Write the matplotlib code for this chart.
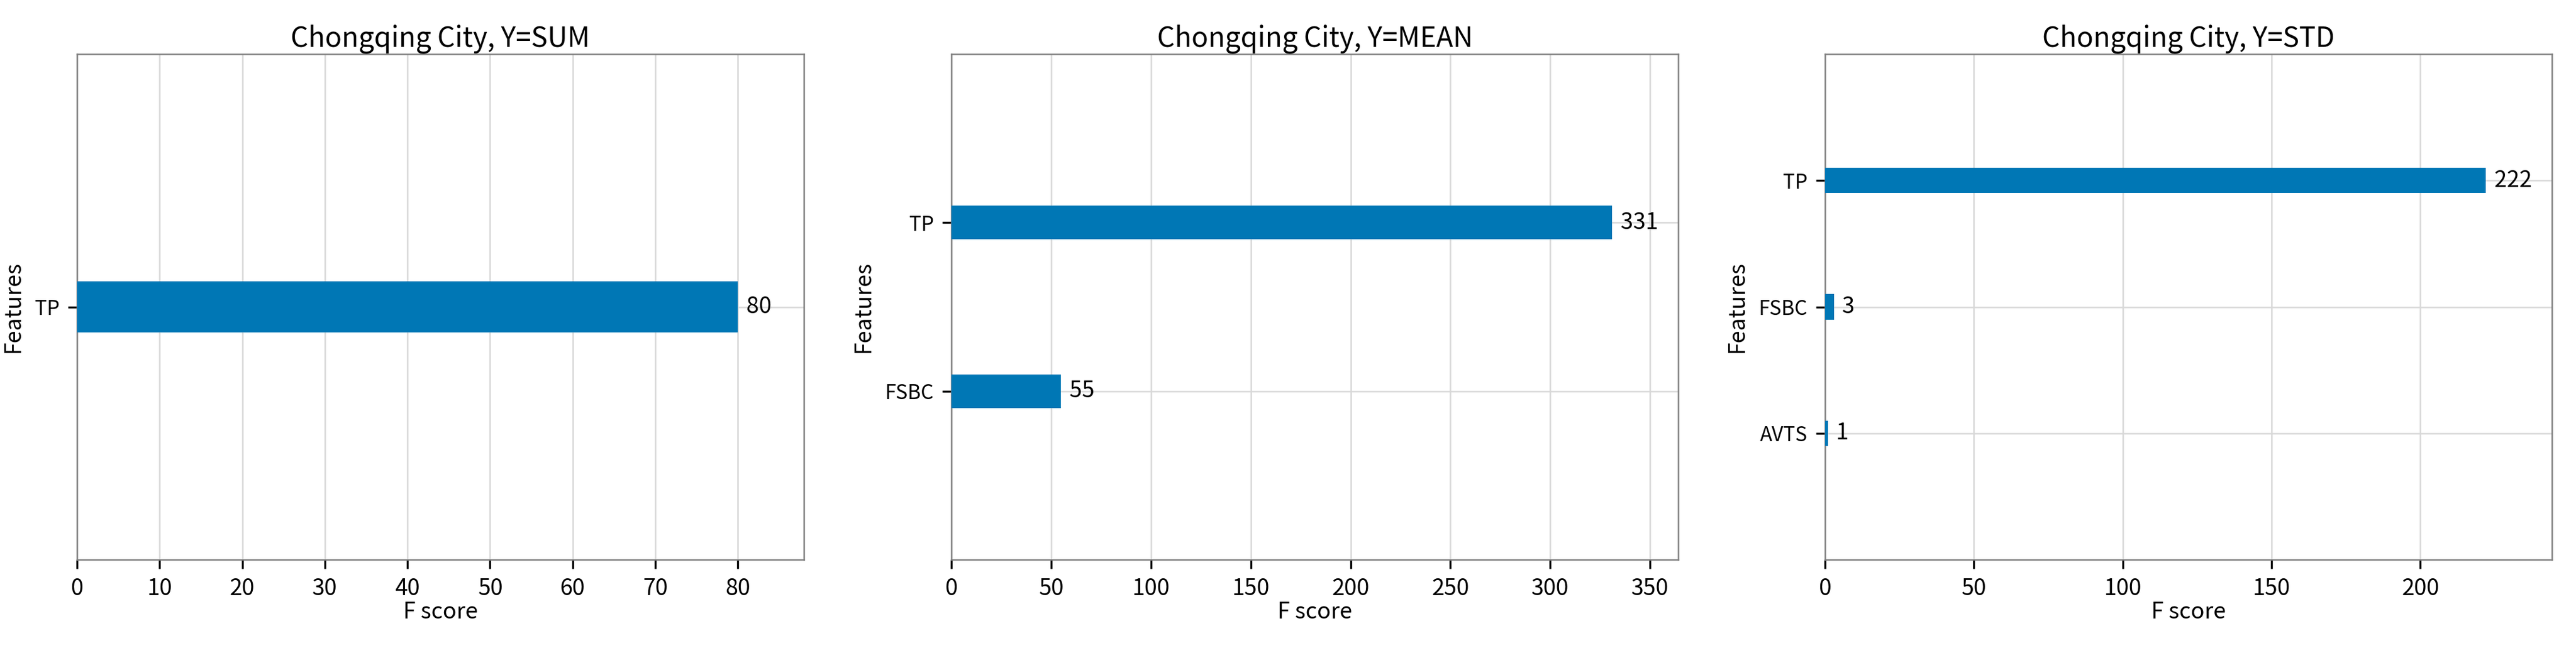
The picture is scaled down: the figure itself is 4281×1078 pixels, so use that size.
import matplotlib
matplotlib.use("Agg")
import matplotlib.pyplot as plt

plt.rcParams["font.family"] = ["Noto Sans CJK SC", "DejaVu Sans"]

titulos = ["Chongqing City, Y=SUM", "Chongqing City, Y=MEAN", "Chongqing City, Y=STD"]
features_sum = ["TP"]
scores_sum = [80]
features_mean = ["FSBC", "TP"]
scores_mean = [55, 331]
features_std = ["AVTS", "FSBC", "TP"]
scores_std = [1, 3, 222]

paineis = [
    (features_sum, scores_sum),
    (features_mean, scores_mean),
    (features_std, scores_std),
]
x_lefts = [128, 1581, 3033]

fig = plt.figure(figsize=(4281 / 300, 1078 / 300), dpi=300)
W, H = 4281, 1078
for titulo, (feats, vals), x0 in zip(titulos, paineis, x_lefts):
    ax = fig.add_axes([x0 / W, 1 - 931 / H, 1208 / W, (931 - 90) / H])
    ys = list(range(len(feats)))
    ax.barh(ys, vals, height=0.2, color="#0077b5", zorder=3)
    for y, v in zip(ys, vals):
        ax.text(v + max(vals) * 0.005, y, f" {v}", va="center", fontsize=9, zorder=4)
    ax.set_yticks(ys)
    ax.set_yticklabels(feats, fontsize=8)
    ax.tick_params(axis="x", labelsize=9)
    ax.set_xlim(0, max(vals) * 1.1)
    ax.set_ylim(-1, len(feats))
    ax.grid(True, color="#d8d8d8", linewidth=0.6, zorder=0)
    ax.set_axisbelow(True)
    for s in ax.spines.values():
        s.set_color("#808080")
        s.set_linewidth(0.6)
    ax.set_title(titulo, fontsize=11, pad=3)
    ax.set_xlabel("F score", fontsize=9, labelpad=0)
    ax.set_ylabel("Features", fontsize=9)

fig.savefig("out.png", dpi=300)
